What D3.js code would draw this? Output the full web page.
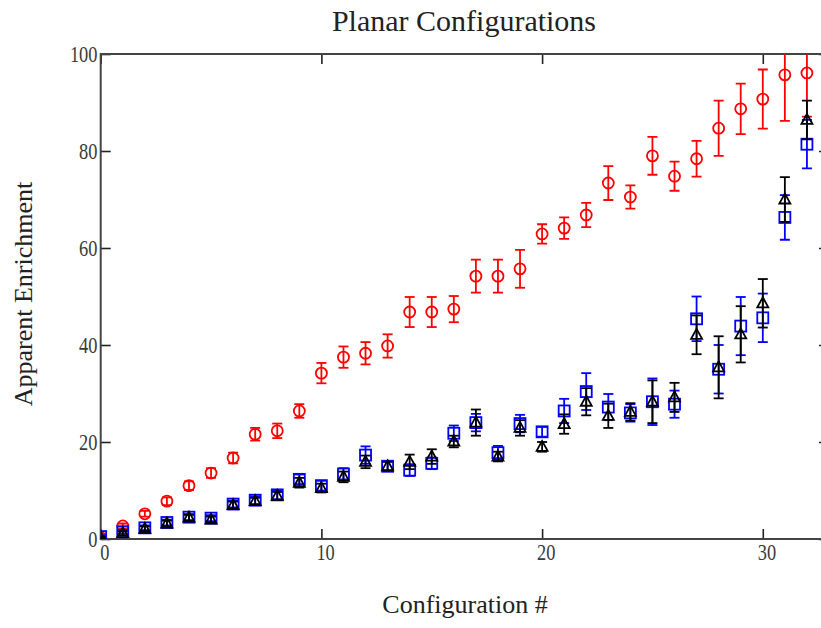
<!DOCTYPE html>
<html>
<head>
<meta charset="utf-8">
<script src="https://cdn.jsdelivr.net/npm/d3@7"></script>
<style>
  body { margin: 0; background: #fff; }
  svg { display: block; font-family: "Liberation Serif", "DejaVu Serif", serif; }
  .tick text { fill: #3a3a3a; font-size: 23px; font-family: "Liberation Serif", serif; }
</style>
</head>
<body>
<svg></svg>
<script>
var configs = [0, 1, 2, 3, 4, 5, 6, 7, 8, 9, 10, 11, 12, 13, 14, 15, 16,
  17, 18, 19, 20, 21, 22, 23, 24, 25, 26, 27, 28, 29, 30, 31, 32];

var red = [0.3, 2.7, 5.2, 7.8, 11.0, 13.6, 16.7, 21.6, 22.3, 26.4, 34.2, 37.5, 38.3, 39.8, 46.8, 46.8, 47.4,
  54.2, 54.2, 55.7, 62.9, 64.1, 66.8, 73.4, 70.5, 79.0, 74.8, 78.4, 84.7, 88.7, 90.7, 95.7, 96.1];
var redErr = [0.2, 0.5, 0.6, 0.8, 0.9, 1.0, 1.1, 1.3, 1.5, 1.4, 2.1, 2.2, 2.3, 2.4, 3.1, 3.1, 2.7,
  3.4, 3.4, 3.9, 2.0, 2.2, 2.5, 3.5, 2.4, 3.9, 3.0, 3.7, 5.7, 5.2, 6.1, 9.5, 9.0];

var blue = [0.5, 1.5, 2.3, 3.4, 4.5, 4.3, 7.2, 8.0, 9.1, 12.3, 11.0, 13.4, 17.3, 15.0, 14.2, 15.6, 21.8,
  24.0, 17.8, 23.8, 22.1, 26.4, 30.4, 27.2, 26.0, 28.3, 27.8, 45.4, 35.0, 43.9, 45.6, 66.3, 81.4];
var blueErr = [0.3, 0.4, 0.5, 0.6, 0.6, 0.6, 0.7, 0.8, 0.9, 1.0, 1.0, 1.2, 1.8, 1.0, 1.2, 1.2, 1.6,
  1.8, 1.4, 1.8, 1.0, 2.5, 3.8, 2.7, 1.8, 4.8, 2.8, 4.6, 5.0, 6.0, 5.0, 4.6, 5.0];

var black = [0.3, 1.2, 2.1, 3.2, 4.4, 4.0, 7.0, 7.8, 8.9, 11.6, 10.5, 12.8, 15.9, 15.0, 15.9, 17.0, 20.1,
  24.0, 17.0, 22.9, 19.0, 23.7, 28.3, 25.4, 26.2, 28.3, 29.2, 42.1, 35.4, 42.2, 48.6, 70.0, 86.4];
var blackErr = [0.2, 0.4, 0.5, 0.6, 0.6, 0.6, 0.7, 0.7, 0.8, 1.0, 0.9, 1.1, 1.3, 0.9, 1.5, 1.5, 1.2,
  2.7, 1.0, 1.6, 1.0, 2.0, 2.8, 2.5, 1.8, 4.4, 3.0, 4.0, 6.4, 5.8, 5.0, 4.6, 4.0];

var xTicks = [0, 10, 20, 30];
var yTicks = [0, 20, 40, 60, 80, 100];

var width = 821,
  height = 628,
  pLeft = 100.7, pRight = 829,
  pTop = 54, pBottom = 539;

var svg = d3.select('svg')
  .attr('width', width)
  .attr('height', height);

var x = d3.scaleLinear().domain([0, 33]).range([pLeft, pRight]);
var y = d3.scaleLinear().domain([0, 100]).range([pBottom, pTop]);

svg.append('clipPath').attr('id', 'plot')
  .append('rect')
  .attr('x', pLeft).attr('y', pTop)
  .attr('width', pRight - pLeft).attr('height', pBottom - pTop);

// axes, ticks pointing inward; labels narrowed like the original's font
svg.append('g')
  .attr('transform', 'translate(' + [pLeft, 0] + ')')
  .call(d3.axisLeft(y).tickValues(yTicks).tickSize(-10).tickPadding(4))
  .call(g => g.select('.domain').remove())
  .selectAll('text').attr('transform', 'scale(0.8,1)');
svg.append('g')
  .attr('transform', 'translate(' + [pRight, 0] + ')')
  .call(d3.axisRight(y).tickValues(yTicks).tickSize(-10).tickFormat(''))
  .call(g => g.select('.domain').remove());
svg.append('g')
  .attr('transform', 'translate(' + [0, pBottom] + ')')
  .call(d3.axisBottom(x).tickValues(xTicks).tickSize(-10).tickPadding(5))
  .call(g => g.select('.domain').remove())
  .selectAll('text').attr('dx', '0.2em').attr('transform', 'scale(0.8,1)');
svg.append('g')
  .attr('transform', 'translate(' + [0, pTop] + ')')
  .call(d3.axisTop(x).tickValues(xTicks).tickSize(-10).tickFormat(''))
  .call(g => g.select('.domain').remove());

svg.selectAll('.tick line').attr('stroke', '#222').attr('stroke-width', 1.6);

svg.append('rect')
  .attr('x', pLeft).attr('y', pTop)
  .attr('width', pRight - pLeft).attr('height', pBottom - pTop)
  .attr('fill', 'none')
  .attr('stroke', '#444')
  .attr('stroke-width', 2);

var series = [
  { name: 'red', vals: red, errs: redErr, color: '#ff0000', shape: 'circle' },
  { name: 'blue', vals: blue, errs: blueErr, color: '#0000ff', shape: 'square' },
  { name: 'black', vals: black, errs: blackErr, color: '#000000', shape: 'triangle' }
];

var cap = 5;
var plot = svg.append('g').attr('clip-path', 'url(#plot)');

series.forEach(function(s) {
  var pts = configs.map((c, i) => ({ c: c, v: s.vals[i], e: s.errs[i] }));
  var g = plot.append('g')
    .attr('stroke', s.color)
    .attr('stroke-width', 1.8)
    .attr('fill', 'none');

  var bars = g.selectAll('.err').data(pts).join('g').attr('class', 'err');
  bars.append('line')
    .attr('x1', d => x(d.c)).attr('x2', d => x(d.c))
    .attr('y1', d => y(d.v - d.e)).attr('y2', d => y(d.v + d.e));
  bars.append('line')
    .attr('x1', d => x(d.c) - cap).attr('x2', d => x(d.c) + cap)
    .attr('y1', d => y(d.v + d.e)).attr('y2', d => y(d.v + d.e));
  bars.append('line')
    .attr('x1', d => x(d.c) - cap).attr('x2', d => x(d.c) + cap)
    .attr('y1', d => y(d.v - d.e)).attr('y2', d => y(d.v - d.e));

  if (s.shape == 'circle') {
    g.selectAll('.mk').data(pts).join('circle')
      .attr('cx', d => x(d.c)).attr('cy', d => y(d.v)).attr('r', 5.5);
  } else if (s.shape == 'square') {
    g.selectAll('.mk').data(pts).join('rect')
      .attr('x', d => x(d.c) - 5.5).attr('y', d => y(d.v) - 5.5)
      .attr('width', 11).attr('height', 11);
  } else {
    g.selectAll('.mk').data(pts).join('path')
      .attr('d', d => {
        var cx = x(d.c), cy = y(d.v);
        return 'M' + [cx, cy - 6] + 'L' + [cx + 5.5, cy + 4] + 'L' + [cx - 5.5, cy + 4] + 'Z';
      });
  }
});

svg.append('text')
  .attr('x', 464).attr('y', 31)
  .attr('text-anchor', 'middle')
  .attr('font-size', 30)
  .attr('fill', '#222')
  .text('Planar Configurations');

svg.append('text')
  .attr('x', 465).attr('y', 613)
  .attr('text-anchor', 'middle')
  .attr('font-size', 26)
  .attr('fill', '#222')
  .text('Configuration #');

svg.append('text')
  .attr('transform', 'translate(' + [32, 294] + ') rotate(-90)')
  .attr('text-anchor', 'middle')
  .attr('font-size', 26)
  .attr('fill', '#222')
  .text('Apparent Enrichment');
</script>
</body>
</html>
